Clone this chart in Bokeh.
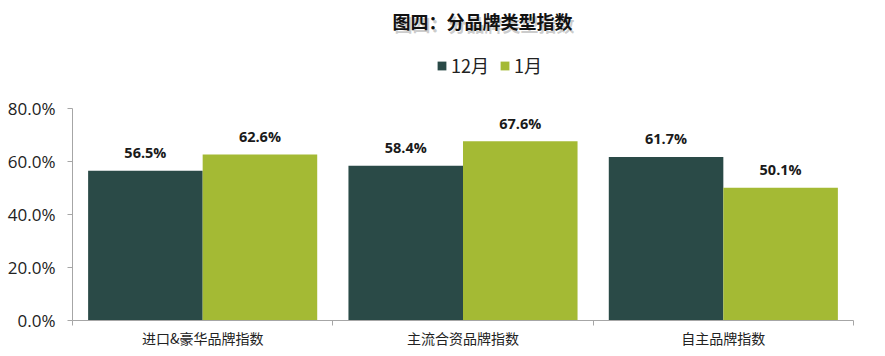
from bokeh.plotting import figure
from bokeh.models import (ColumnDataSource, FixedTicker, Range1d, Legend, LegendItem, Label)
from bokeh.embed import file_html
from bokeh.resources import INLINE
from bokeh.core.properties import value

# ---- data ----
categories = ["进口&豪华品牌指数", "主流合资品牌指数", "自主品牌指数"]
series_names = ["12月", "1月"]
dec_values = [56.5, 58.4, 61.7]
jan_values = [62.6, 67.6, 50.1]
y_ticks = [0, 20, 40, 60, 80]
title_text = "图四：分品牌类型指数"

DARK = "#2a4a47"
GREEN = "#a4ba34"
AXIS = "#a6a6a6"
CJK = "Noto Sans CJK SC"

n = len(categories)
bw = 0.44
centers = [i + 0.5 for i in range(n)]
dec_x = [c - bw / 2 for c in centers]
jan_x = [c + bw / 2 for c in centers]

src_dec = ColumnDataSource(dict(x=dec_x, top=dec_values,
                                lab=[f"{v:.1f}%" for v in dec_values]))
src_jan = ColumnDataSource(dict(x=jan_x, top=jan_values,
                                lab=[f"{v:.1f}%" for v in jan_values]))

# frame extends above the 80% tick so the title and legend live inside it
PX_PER_UNIT = 212 / 80.0
FRAME_H = 320
y_top = FRAME_H / PX_PER_UNIT

p = figure(width=885, height=356, output_backend="svg", toolbar_location=None,
           x_range=Range1d(0, n), y_range=Range1d(y_ticks[0], y_top),
           min_border_left=72, min_border_right=32, min_border_top=0,
           min_border_bottom=36)
p.outline_line_color = None
p.xgrid.visible = False
p.ygrid.visible = False

r1 = p.vbar(x="x", top="top", width=bw, source=src_dec, fill_color=DARK, line_color=None)
r2 = p.vbar(x="x", top="top", width=bw, source=src_jan, fill_color=GREEN, line_color=None)

for src in (src_dec, src_jan):
    p.text(x="x", y="top", text="lab", source=src, text_align="center",
           text_baseline="middle", y_offset=-18, text_font=value("Open Sans"),
           text_font_size="14.5px", text_font_style="bold", text_color="#1a1a1a")

# y axis
p.yaxis.ticker = FixedTicker(ticks=y_ticks)
p.yaxis.bounds = (y_ticks[0], y_ticks[-1])
p.yaxis.major_label_overrides = {t: f"{t:.1f}%" for t in y_ticks}
p.yaxis.major_label_text_font = "Open Sans"
p.yaxis.major_label_text_font_size = "17px"
p.yaxis.major_label_text_color = "#222222"
p.yaxis.axis_line_color = AXIS
p.yaxis.major_tick_line_color = AXIS
p.yaxis.major_tick_in = 0
p.yaxis.major_tick_out = 5
p.yaxis.minor_tick_line_color = None
p.yaxis.major_label_standoff = 12

# x axis
p.xaxis.ticker = FixedTicker(ticks=centers, minor_ticks=list(range(n + 1)))
p.xaxis.major_label_overrides = {c: cat for c, cat in zip(centers, categories)}
p.xaxis.major_label_text_font = CJK
p.xaxis.major_label_text_font_size = "14px"
p.xaxis.major_label_text_color = "#222222"
p.xaxis.axis_line_color = AXIS
p.xaxis.major_tick_line_color = None
p.xaxis.major_tick_out = 0
p.xaxis.major_tick_in = 0
p.xaxis.minor_tick_line_color = AXIS
p.xaxis.minor_tick_in = 0
p.xaxis.minor_tick_out = 5
p.xaxis.major_label_standoff = 2

# legend above the bars
legend = Legend(items=[LegendItem(label=series_names[0], renderers=[r1]),
                       LegendItem(label=series_names[1], renderers=[r2])],
                location=(364, 242), orientation="horizontal",
                glyph_width=11, glyph_height=11, label_standoff=4, spacing=10,
                padding=0, margin=0, border_line_color=None,
                background_fill_alpha=0, label_text_font=CJK,
                label_text_font_size="18px", label_height=22,
                label_text_color="#222222")
p.add_layout(legend, "center")

# title with soft shadow
title_y = y_ticks[-1] + 88 / PX_PER_UNIT
title_x = 1.575
p.add_layout(Label(x=title_x, y=title_y, x_offset=2, y_offset=-3, text=title_text,
                   text_align="center", text_baseline="middle", text_font=CJK,
                   text_font_size="18px", text_font_style="bold",
                   text_color="#9a9a9a", text_alpha=0.5))
p.add_layout(Label(x=title_x, y=title_y, text=title_text,
                   text_align="center", text_baseline="middle", text_font=CJK,
                   text_font_size="18px", text_font_style="bold", text_color="#111111"))

open("out.html", "w").write(file_html(p, INLINE))
